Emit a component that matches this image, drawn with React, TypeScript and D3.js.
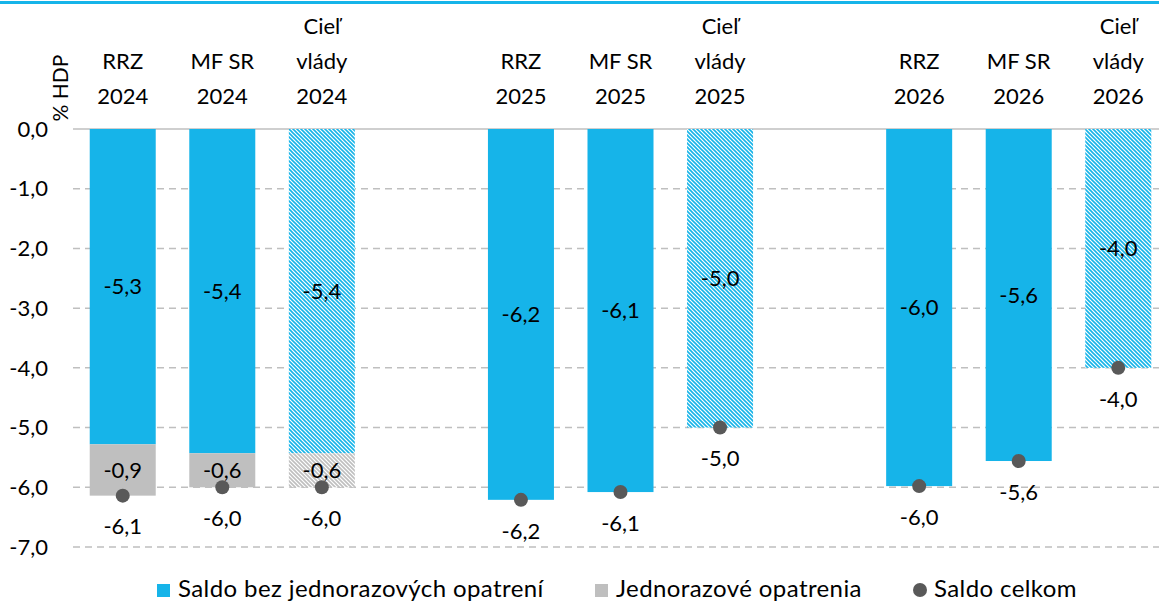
import * as d3 from "d3";
import { useRef, useEffect } from "react";

const categories = ["RRZ 2024", "MF SR 2024", "Cieľ vlády 2024", "RRZ 2025", "MF SR 2025", "Cieľ vlády 2025", "RRZ 2026", "MF SR 2026", "Cieľ vlády 2026"];
const labelLines = [
  ["RRZ", "2024"], ["MF SR", "2024"], ["Cieľ", "vlády", "2024"],
  ["RRZ", "2025"], ["MF SR", "2025"], ["Cieľ", "vlády", "2025"],
  ["RRZ", "2026"], ["MF SR", "2026"], ["Cieľ", "vlády", "2026"],
];
const isTarget = [false, false, true, false, false, true, false, false, true];
const withoutOneOff = [-5.28, -5.43, -5.43, -6.21, -6.08, -5.0, -5.98, -5.56, -4.0];
const oneOff = [-0.86, -0.57, -0.57, 0, 0, 0, 0, 0, 0];
const total = [-6.14, -6.0, -6.0, -6.21, -6.08, -5.0, -5.98, -5.56, -4.0];
const yTicks = [0, -1, -2, -3, -4, -5, -6, -7];
const legendItems = ["Saldo bez jednorazových opatrení", "Jednorazové opatrenia", "Saldo celkom"];

const BLUE = "#16b4e9";
const GRAY = "#bfbfbf";
const DOT = "#595959";
const FONT = "Lato, 'Open Sans', sans-serif";

const App = () => {
  const ref = useRef<HTMLDivElement>(null);

  useEffect(() => {
    const totalWidth = 1159;
    const totalHeight = 603;
    d3.select(ref.current).select("svg").remove();

    const root = d3.select(ref.current)
      .append("svg")
      .attr("width", totalWidth)
      .attr("height", totalHeight)
      .style("position", "absolute")
      .style("left", 0)
      .style("top", 0)
      .style("background", "#fff")
      .style("font-family", FONT);

    const fmt = d3.formatLocale({ decimal: ",", thousands: " ", grouping: [3], currency: ["", ""], minus: "-" }).format(".1f");

    // hatch patterns
    const defs = root.append("defs");
    [["hatchBlue", BLUE], ["hatchGray", GRAY]].forEach(([id, c]) => {
      const p = defs.append("pattern")
        .attr("id", id)
        .attr("patternUnits", "userSpaceOnUse")
        .attr("width", 4)
        .attr("height", 4);
      p.append("rect").attr("width", 4).attr("height", 4).attr("fill", "#fff");
      p.append("path").attr("d", "M-1,-1 L5,5 M-1,3 L1,5 M3,-1 L5,1")
        .attr("stroke", c).attr("stroke-width", 1.6);
    });

    // top line
    root.append("line")
      .attr("x1", 0).attr("x2", totalWidth).attr("y1", 2.5).attr("y2", 2.5)
      .attr("stroke", BLUE).attr("stroke-width", 3);

    const domain: string[] = [];
    categories.forEach((c, i) => {
      domain.push(c);
      if (i === 2 || i === 5) domain.push("gap" + i);
    });

    const x = d3.scaleBand().domain(domain).range([73, 1168]).paddingInner(0.337).paddingOuter(0.168);
    const y = d3.scaleLinear().domain([-7, 0]).range([547, 129]);

    // grid
    root.append("g").selectAll("line")
      .data(yTicks)
      .join("line")
      .attr("x1", 73).attr("x2", totalWidth)
      .attr("y1", d => y(d)).attr("y2", d => y(d))
      .attr("stroke", "#bfbfbf")
      .attr("stroke-width", 1.5)
      .attr("stroke-dasharray", d => (d === 0 ? null : "7,5"));

    root.append("g").selectAll("text")
      .data(yTicks)
      .join("text")
      .attr("x", 48)
      .attr("y", d => y(d))
      .attr("dy", "0.35em")
      .attr("text-anchor", "end")
      .attr("font-size", 22)
      .attr("fill", "#000")
      .text(d => fmt(d));

    root.append("text")
      .attr("transform", `translate(68,88) rotate(-90)`)
      .attr("text-anchor", "middle")
      .attr("font-size", 21)
      .text("% HDP");

    const g = root.append("g");
    const bw = x.bandwidth();

    categories.forEach((c, i) => {
      const x0 = x(c)!;
      const cx = x0 + bw / 2;
      const blueEnd = withoutOneOff[i];
      const grayEnd = withoutOneOff[i] + oneOff[i];

      g.append("rect")
        .attr("x", x0).attr("width", bw)
        .attr("y", y(0)).attr("height", y(blueEnd) - y(0))
        .attr("fill", isTarget[i] ? "url(#hatchBlue)" : BLUE);

      if (oneOff[i] !== 0) {
        g.append("rect")
          .attr("x", x0).attr("width", bw)
          .attr("y", y(blueEnd)).attr("height", y(grayEnd) - y(blueEnd))
          .attr("fill", isTarget[i] ? "url(#hatchGray)" : GRAY);
        g.append("text")
          .attr("x", cx).attr("y", (y(blueEnd) + y(grayEnd)) / 2)
          .attr("dy", "0.35em").attr("text-anchor", "middle")
          .attr("font-size", 22)
          .text(fmt(oneOff[i]));
      }

      g.append("text")
        .attr("x", cx).attr("y", (y(0) + y(blueEnd)) / 2)
        .attr("dy", "0.35em").attr("text-anchor", "middle")
        .attr("font-size", 22)
        .text(fmt(blueEnd));

      g.append("circle")
        .attr("cx", cx).attr("cy", y(total[i]))
        .attr("r", 7)
        .attr("fill", DOT);

      g.append("text")
        .attr("x", cx).attr("y", y(total[i]) + 31)
        .attr("dy", "0.35em").attr("text-anchor", "middle")
        .attr("font-size", 22)
        .text(fmt(total[i]));

      const lines = labelLines[i];
      lines.forEach((l, k) => {
        g.append("text")
          .attr("x", cx)
          .attr("y", 104 - (lines.length - 1 - k) * 35)
          .attr("text-anchor", "middle")
          .attr("font-size", 22)
          .text(l);
      });
    });

    // legend
    const lg = root.append("g");
    const lx = [157, 595, 913];
    lg.append("rect").attr("x", lx[0]).attr("y", 584).attr("width", 13).attr("height", 13).attr("fill", BLUE);
    lg.append("rect").attr("x", lx[1]).attr("y", 584).attr("width", 13).attr("height", 13).attr("fill", GRAY);
    lg.append("circle").attr("cx", lx[2] + 7).attr("cy", 590).attr("r", 7).attr("fill", DOT);
    legendItems.forEach((t, i) => {
      lg.append("text")
        .attr("x", lx[i] + 21)
        .attr("y", 597)
        .attr("font-size", 24)
        .attr("letter-spacing", 0.4)
        .text(t);
    });

    return () => {
      d3.select(ref.current).select("svg").remove();
    };
  }, []);

  return <div ref={ref} style={{ width: 1159, height: 603 }}></div>;
};

export default App;
